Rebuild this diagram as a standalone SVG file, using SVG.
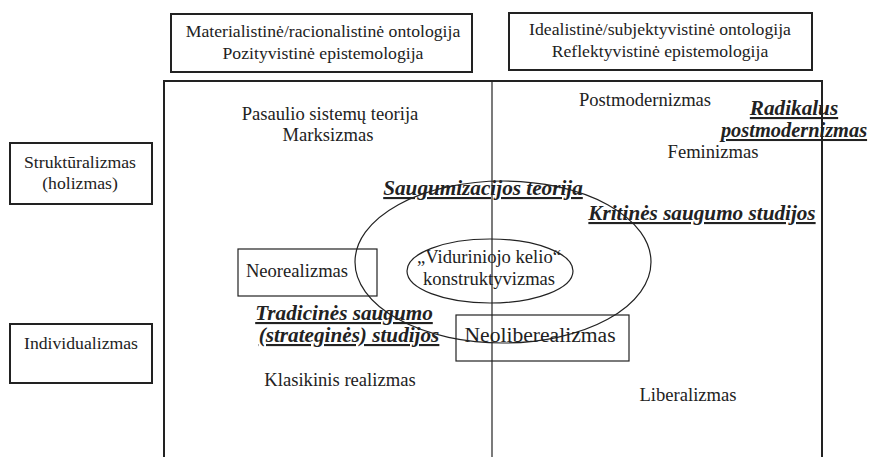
<svg xmlns="http://www.w3.org/2000/svg" width="871" height="457" viewBox="0 0 871 457">
<style>
.t{font-family:"Liberation Serif","Times New Roman",serif;font-size:18.6px;fill:#222;text-anchor:middle}
.s{font-size:17.7px}
.b{font-family:"Liberation Serif","Times New Roman",serif;font-size:21.2px;font-weight:bold;font-style:italic;fill:#222;text-decoration:underline;text-anchor:middle}
.box{fill:none;stroke:#222;stroke-width:2}
.thin{fill:none;stroke:#222;stroke-width:1.2}
</style>
<rect width="871" height="457" fill="#fff"/>
<g id="connectors">
<path d="M164 457 V81 H822 V457" class="box"/>
<line x1="492" y1="81" x2="492" y2="457" stroke="#222" stroke-width="1.2"/>
</g>
<g id="top-left"><rect x="171" y="14" width="301" height="58" class="box"/><text class="t s" x="323" y="37">Materialistinė/racionalistinė ontologija</text><text class="t s" x="323" y="59">Pozityvistinė epistemologija</text></g>
<g id="top-right"><rect x="509" y="13" width="303" height="57" class="box"/><text class="t s" x="660" y="35">Idealistinė/subjektyvistinė ontologija</text><text class="t s" x="660" y="57">Reflektyvistinė epistemologija</text></g>
<g id="strukturalizmas"><rect x="10" y="143" width="142" height="61" class="box"/><text class="t s" x="80" y="168">Struktūralizmas</text><text class="t s" x="80" y="189">(holizmas)</text></g>
<g id="individualizmas"><rect x="10" y="324" width="142" height="59" class="box"/><text class="t s" x="81" y="349">Individualizmas</text></g>
<g id="pasaulio"><text class="t" x="330" y="120">Pasaulio sistemų teorija</text><text class="t" x="328" y="141">Marksizmas</text></g>
<g id="postmodernizmas"><text class="t" x="645" y="106">Postmodernizmas</text></g>
<g id="radikalus"><text class="b" x="794" y="115">Radikalus</text><text class="b" x="794" y="137" style="font-size:20.4px">postmodernizmas</text></g>
<g id="feminizmas"><text class="t" x="713" y="158">Feminizmas</text></g>
<g id="outer-ellipse"><ellipse cx="503" cy="262" rx="148" ry="81" class="thin"/></g>
<g id="saugumizacijos"><text class="b" x="483" y="195">Saugumizacijos teorija</text></g>
<g id="kritines"><text class="b" x="702" y="220">Kritinės saugumo studijos</text></g>
<g id="neorealizmas"><rect x="238" y="249" width="139" height="47" class="thin"/><text class="t" x="297" y="277">Neorealizmas</text></g>
<g id="konstruktyvizmas"><ellipse cx="490" cy="271" rx="83" ry="32" class="thin"/><text class="t" x="489" y="263">„Viduriniojo kelio“</text><text class="t" x="489" y="285">konstruktyvizmas</text></g>
<g id="tradicines"><text class="b" x="344" y="320">Tradicinės saugumo</text><text class="b" x="349" y="342">(strateginės) studijos</text></g>
<g id="neoliberealizmas"><rect x="456" y="315" width="173" height="46" class="thin"/><text class="t" x="540" y="342" style="font-size:21.6px">Neoliberealizmas</text></g>
<g id="klasikinis"><text class="t" x="340" y="386">Klasikinis realizmas</text></g>
<g id="liberalizmas"><text class="t" x="688" y="401">Liberalizmas</text></g>
</svg>
